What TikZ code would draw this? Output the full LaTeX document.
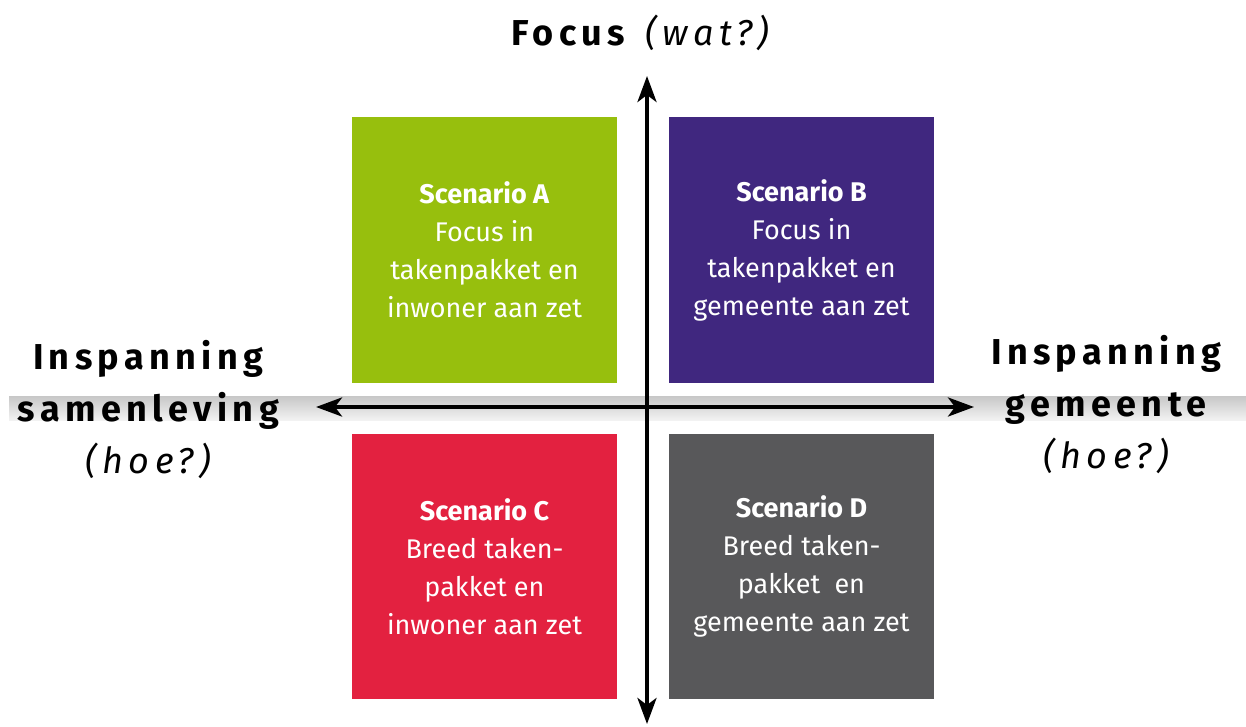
\documentclass[tikz,border=0pt]{standalone}
\usepackage{fontspec}
\setmainfont{Fira Sans}
\newfontfamily\spacedfont[LetterSpace=15]{Fira Sans}
\usetikzlibrary{arrows.meta,positioning}
\definecolor{scenA}{HTML}{97BF0D}
\definecolor{scenB}{HTML}{40277F}
\definecolor{scenC}{HTML}{E32140}
\definecolor{scenD}{HTML}{58585A}

\begin{document}
\begin{tikzpicture}[x=1pt,y=-1pt, >={Stealth[length=26pt,width=19pt,inset=7pt]}]
  \tikzstyle{scenario}=[rectangle,minimum width=265pt,minimum height=265pt,
        inner sep=0pt,text=white,align=center,font=\fontsize{27}{38}\selectfont]
  \tikzstyle{axislabel}=[align=center,font=\spacedfont\fontsize{36}{52}\selectfont]
  \tikzstyle{axis}=[line width=4pt,<->]

  \useasboundingbox (0,0) rectangle (1246,727);
  % grey band behind the horizontal axis
  \shade[top color=black!22,bottom color=black!5] (9,396) rectangle (1246,420);

  \node[scenario,fill=scenA] (a) at (484.5,250) {\textbf{Scenario A}\\Focus in\\takenpakket en\\inwoner aan zet};
  \node[scenario,fill=scenB] (b) at (801.5,250) {\textbf{Scenario B}\\Focus in\\takenpakket en\\gemeente aan zet};
  \node[scenario,fill=scenC] (c) at (484.5,566.5) {\textbf{Scenario C}\\Breed taken-\\pakket en\\inwoner aan zet};
  \node[scenario,fill=scenD] (d) at (801.5,566.5) {\textbf{Scenario D}\\Breed taken-\\pakket\ \ en\\gemeente aan zet};

  \coordinate (top) at (647,76);
  \coordinate (bottom) at (647,724);
  \coordinate (left) at (316,407);
  \coordinate (right) at (974,407);
  \draw[axis] (bottom) -- (top);
  \draw[axis] (left) -- (right);

  \node[axislabel] (focus) at (643,33) {\textbf{Focus} \textit{(wat?)}};
  \node[axislabel] (samen) at (151,410) {\textbf{Inspanning}\\\textbf{samenleving}\\\textit{(hoe?)}};
  \node[axislabel] (gem) at (1109,405) {\textbf{Inspanning}\\\textbf{gemeente}\\\textit{(hoe?)}};
\end{tikzpicture}
\end{document}
